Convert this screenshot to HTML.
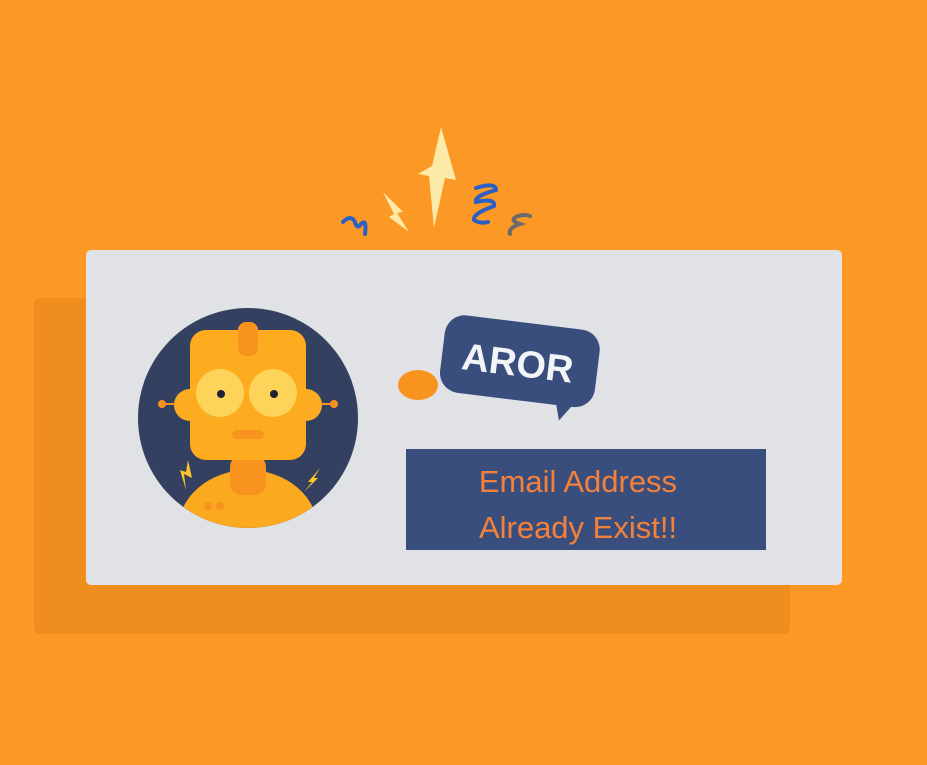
<!DOCTYPE html>
<html><head><style>body{margin:0;width:927px;height:760px;overflow:hidden;background:#fc9825}</style></head><body>
<svg width="927" height="760" viewBox="0 0 927 760" xmlns="http://www.w3.org/2000/svg">
<rect width="927" height="760" fill="#fc9825"/>
<rect x="34" y="298" width="756" height="336" rx="6" fill="#ef8e1f"/>
<rect x="86" y="250" width="756" height="335" rx="5" fill="#e1e2e6"/>
<!-- sparks -->
<polygon points="441,127 456,180 445,178 434,228 429,176 418,174 432,166" fill="#fdeaa8"/>
<polygon points="383,192 403,212 397,213 409,232 389,217 394,214" fill="#fdeaa8"/>
<path d="M343,222 q8,-8 12,0 q2,8 6,2 q6,-6 4,10" stroke="#2b5fc4" stroke-width="4" fill="none" stroke-linecap="round"/>
<path d="M476,188 q20,-6 20,2 q-22,6 -20,12 q20,-4 18,4 q-22,8 -20,14 q6,4 14,2" stroke="#2b5fc4" stroke-width="4" fill="none" stroke-linecap="round"/>
<path d="M510,234 q-2,-6 10,-10 q-12,-4 -2,-8 q8,-2 12,0" stroke="#6b6b6e" stroke-width="4" fill="none" stroke-linecap="round"/>
<!-- avatar -->
<circle cx="248" cy="418" r="110" fill="#34405f"/>
<clipPath id="c"><circle cx="248" cy="418" r="110"/></clipPath>
<g clip-path="url(#c)">
<ellipse cx="248" cy="530" rx="70" ry="60" fill="#fbaa1f"/>
<rect x="230" y="455" width="36" height="40" rx="12" fill="#f7931e"/>
</g>
<line x1="162" y1="404" x2="335" y2="404" stroke="#f7931e" stroke-width="2"/>
<circle cx="162" cy="404" r="4" fill="#f7931e"/>
<circle cx="334" cy="404" r="4" fill="#f7931e"/>
<circle cx="190" cy="405" r="16" fill="#fbac22"/>
<circle cx="306" cy="405" r="16" fill="#fbac22"/>
<rect x="190" y="330" width="116" height="130" rx="16" fill="#fcac1e"/>
<rect x="238" y="322" width="20" height="34" rx="8" fill="#f7931e"/>
<circle cx="220" cy="393" r="24" fill="#fdd35a"/>
<circle cx="273" cy="393" r="24" fill="#fdd35a"/>
<circle cx="221" cy="394" r="4" fill="#1e2233"/>
<circle cx="274" cy="394" r="4" fill="#1e2233"/>
<rect x="232" y="430" width="32" height="9" rx="4.5" fill="#f7931e"/>
<circle cx="208" cy="506" r="4" fill="#f7931e"/><circle cx="220" cy="506" r="4" fill="#f7931e"/>
<polygon points="188,460 192,478 184,474 186,490 180,470 186,472" fill="#fcc62b"/>
<polygon points="320,468 308,482 312,482 304,492 318,478 314,478" fill="#fcc62b"/>
<!-- bubble -->
<ellipse cx="418" cy="385" rx="20" ry="15" fill="#f7931e"/>
<g transform="rotate(7 518 360)">
<rect x="442" y="322" width="156" height="78" rx="20" fill="#3a4e7e"/>
<polygon points="560,395 580,395 566,415" fill="#3a4e7e"/>
<text x="518" y="376" font-family="Liberation Sans, sans-serif" font-weight="bold" font-size="38" fill="#f3f4f7" text-anchor="middle">AROR</text>
</g>
<rect x="406" y="449" width="360" height="101" fill="#3a4e7e"/>
<text x="578" y="492" font-family="Liberation Sans, sans-serif" font-size="31" fill="#f4813a" text-anchor="middle">Email Address</text>
<text x="578" y="538" font-family="Liberation Sans, sans-serif" font-size="31" fill="#f4813a" text-anchor="middle">Already Exist!!</text>
</svg>
</body></html>
